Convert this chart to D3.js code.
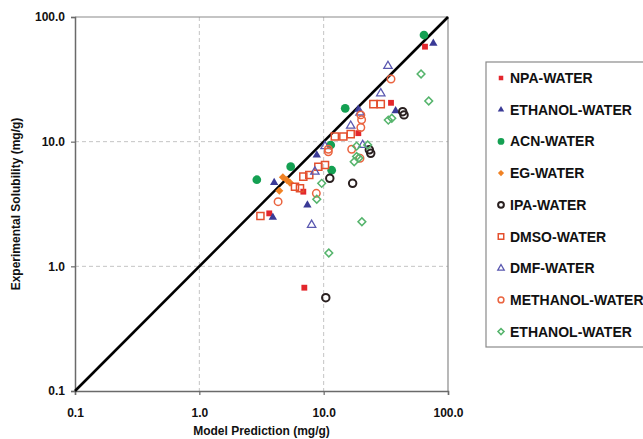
<!DOCTYPE html>
<html>
<head>
<meta charset="utf-8">
<script src="https://d3js.org/d3.v7.min.js"></script>
<style>
  body { margin: 0; background: #fff; }
  svg text { font-family: "Liberation Sans", Arial, Helvetica, sans-serif; font-weight: bold; fill: #111; }
  .grid line { stroke: #c4c4c4; stroke-dasharray: 4,3; stroke-width: 1; }
</style>
</head>
<body>
<svg id="chart"></svg>
<script>
// axis ticks
var tickValues = [0.1, 1, 10, 100];
var tickLabels = ["0.1", "1.0", "10.0", "100.0"];

// series: [model prediction, experimental solubility] (mg/g)
var npaWater = [[65.3, 57.8], [34.8, 20.5], [19.0, 11.7], [6.86, 3.97], [3.65, 2.66], [6.99, 0.674]];
var ethanolWater = [[76.2, 61.5], [37.9, 17.7], [19.0, 18.2], [4.0, 4.69], [3.9, 2.47], [7.4, 3.1], [8.8, 7.8]];
var acnWater = [[64.1, 71.7], [14.9, 18.5], [11.4, 9.4], [5.43, 6.3], [11.6, 5.9], [2.9, 4.95]];
var egWater = [[4.7, 5.18], [5.05, 4.93], [5.36, 4.69], [4.4, 4.04]];
var ipaWater = [[43.2, 17.4], [44.3, 16.4], [23.3, 8.6], [23.9, 8.07], [17.1, 4.63], [11.2, 5.08], [10.4, 0.56]];
var dmsoWater = [[25.1, 20.0], [28.8, 20.0], [12.3, 11.0], [14.4, 11.0], [16.5, 11.5], [9.06, 6.3], [10.25, 6.5],
                 [6.86, 5.24], [7.66, 5.4], [5.88, 4.35], [6.45, 4.23], [3.1, 2.53]];
var dmfWater = [[32.9, 40.4], [28.8, 24.4], [16.5, 13.4], [10.25, 9.2], [20.6, 9.4], [8.5, 5.74], [8.0, 2.15], [19.6, 17.1]];
var methanolWater = [[34.8, 31.8], [19.9, 16.4], [20.2, 15.0], [19.9, 13.0], [10.9, 8.7], [10.9, 8.3], [16.8, 8.7],
                     [19.6, 7.35], [8.73, 3.85], [4.3, 3.3]];
var ethanolWater2 = [[60.7, 34.9], [70.0, 21.2], [33.1, 14.9], [35.3, 15.4], [18.4, 9.2], [22.6, 9.4], [18.4, 7.6],
                     [17.6, 6.9], [19.2, 7.4], [9.64, 4.63], [8.8, 3.45], [20.3, 2.28], [11.0, 1.28]];

var seriesNames = ["NPA-WATER", "ETHANOL-WATER", "ACN-WATER", "EG-WATER", "IPA-WATER",
                   "DMSO-WATER", "DMF-WATER", "METHANOL-WATER", "ETHANOL-WATER"];
var seriesData = [npaWater, ethanolWater, acnWater, egWater, ipaWater, dmsoWater, dmfWater, methanolWater, ethanolWater2];

// marker look for each series (rot: square turned into a diamond)
var styles = [
  {sym: d3.symbolSquare,   size: 34, fill: "#e3262c", stroke: "none"},
  {sym: d3.symbolTriangle, size: 30, fill: "#3a3a96", stroke: "none"},
  {sym: d3.symbolCircle,   size: 60, fill: "#14a052", stroke: "none"},
  {sym: d3.symbolSquare,   size: 32, fill: "#f08224", stroke: "none", rot: 45},
  {sym: d3.symbolCircle,   size: 44, fill: "none", stroke: "#2a2020", sw: 2},
  {sym: d3.symbolSquare,   size: 50, fill: "none", stroke: "#e4502e", sw: 1.5},
  {sym: d3.symbolTriangle, size: 30, fill: "none", stroke: "#5a58b0", sw: 1.3},
  {sym: d3.symbolCircle,   size: 44, fill: "none", stroke: "#ea6440", sw: 1.5},
  {sym: d3.symbolSquare,   size: 30, fill: "none", stroke: "#55b46c", sw: 1.5, rot: 45}
];

var W = 643, H = 439;
var plot = {left: 75, right: 448, top: 17, bottom: 391};

var svg = d3.select("#chart").attr("width", W).attr("height", H);
svg.append("rect").attr("width", W).attr("height", H).attr("fill", "#fff");

var x = d3.scaleLog().domain([0.1, 100]).range([plot.left, plot.right]);
var y = d3.scaleLog().domain([0.1, 100]).range([plot.bottom, plot.top]);

// dashed grid at 1 and 10
var grid = svg.append("g").attr("class", "grid");
grid.selectAll(".gx").data([1, 10]).enter().append("line")
  .attr("x1", function(d){ return x(d); }).attr("x2", function(d){ return x(d); })
  .attr("y1", plot.top).attr("y2", plot.bottom);
grid.selectAll(".gy").data([1, 10]).enter().append("line")
  .attr("y1", function(d){ return y(d); }).attr("y2", function(d){ return y(d); })
  .attr("x1", plot.left).attr("x2", plot.right);

// frame top / right
svg.append("path")
  .attr("d", "M" + plot.left + "," + plot.top + "H" + plot.right + "V" + plot.bottom)
  .attr("fill", "none").attr("stroke", "#8a8a8a").attr("stroke-width", 1.2);

// axes
var fmt = function(d){ return tickLabels[tickValues.indexOf(d)]; };
var xAxis = svg.append("g")
  .attr("transform", "translate(0," + plot.bottom + ")")
  .call(d3.axisBottom(x).tickValues(tickValues).tickFormat(fmt).tickSize(4).tickPadding(13));
var yAxis = svg.append("g")
  .attr("transform", "translate(" + plot.left + ",0)")
  .call(d3.axisLeft(y).tickValues(tickValues).tickFormat(fmt).tickSize(4).tickPadding(6));
[xAxis, yAxis].forEach(function(a){
  a.select(".domain").attr("stroke", "#6a6a6a").attr("stroke-width", 1.5);
  a.selectAll(".tick line").attr("stroke", "#6a6a6a").attr("stroke-width", 1.2);
  a.selectAll(".tick text").attr("font-size", 12).style("font-weight", "bold")
    .style("font-family", "'Liberation Sans', Arial, sans-serif").attr("fill", "#111");
});

// 1:1 line
svg.append("line")
  .attr("x1", x(0.1)).attr("y1", y(0.1))
  .attr("x2", x(100)).attr("y2", y(100))
  .attr("stroke", "#000").attr("stroke-width", 2.6);

// points
seriesData.forEach(function(data, i){
  var st = styles[i];
  var sym = d3.symbol().type(st.sym).size(st.size);
  svg.append("g").selectAll("path").data(data).enter().append("path")
    .attr("d", sym)
    .attr("transform", function(d){
      return "translate(" + x(d[0]) + "," + y(d[1]) + ")" + (st.rot ? " rotate(" + st.rot + ")" : "");
    })
    .attr("fill", st.fill)
    .attr("stroke", st.stroke)
    .attr("stroke-width", st.sw || 0);
});

// axis titles
svg.append("text")
  .attr("x", (plot.left + plot.right) / 2).attr("y", 435)
  .attr("text-anchor", "middle").attr("font-size", 12)
  .text("Model Prediction (mg/g)");
svg.append("text")
  .attr("transform", "translate(20," + ((plot.top + plot.bottom) / 2) + ") rotate(-90)")
  .attr("text-anchor", "middle").attr("font-size", 12)
  .text("Experimental Solubility (mg/g)");

// legend
var leg = svg.append("g").attr("transform", "translate(486,62)");
leg.append("rect").attr("x", 0).attr("y", 0).attr("width", 180).attr("height", 285)
  .attr("fill", "#fff").attr("stroke", "#8a8a8a").attr("stroke-width", 1.2);
var items = leg.selectAll(".item").data(seriesNames).enter().append("g")
  .attr("transform", function(d, i){ return "translate(15," + (16 + i * 31.7) + ")"; });
items.append("path")
  .attr("d", function(d, i){ return d3.symbol().type(styles[i].sym).size(styles[i].size * 0.6)(); })
  .attr("transform", function(d, i){ return styles[i].rot ? "rotate(" + styles[i].rot + ")" : null; })
  .attr("fill", function(d, i){ return styles[i].fill; })
  .attr("stroke", function(d, i){ return styles[i].stroke; })
  .attr("stroke-width", function(d, i){ return styles[i].sw || 0; });
items.append("text")
  .attr("x", 9).attr("dy", "0.36em").attr("font-size", 14)
  .text(function(d){ return d; });
</script>
</body>
</html>
